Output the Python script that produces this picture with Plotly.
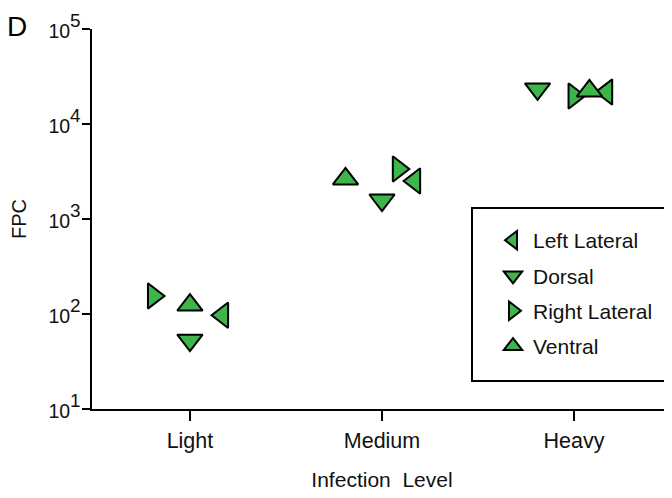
import plotly.graph_objects as go

categories = ["Light", "Medium", "Heavy"]
series_names = ["Left Lateral", "Dorsal", "Right Lateral", "Ventral"]
left_lateral = [97, 2510, 21700]
dorsal = [53, 1585, 23400]
right_lateral = [155, 3360, 19700]
ventral = [124, 2640, 22300]
y_tick_vals = [10, 100, 1000, 10000, 100000]
y_tick_exps = ["1", "2", "3", "4", "5"]

values = [left_lateral, dorsal, right_lateral, ventral]
symbols = ["triangle-left", "triangle-down", "triangle-right", "triangle-up"]
# horizontal scatter (jitter) of each series within a category
jitter = [
    [0.17, 0.17, 0.17],
    [0.0, 0.0, -0.19],
    [-0.19, 0.085, 0.0],
    [0.0, -0.19, 0.08],
]

FONT = "Arial, Liberation Sans, sans-serif"
GREEN = "#3db54a"
TXT = "#111111"

W, H = 664, 490
L, R, T, B = 84, 0, 21, 89
PW = W - L - R
PH = H - T - B

def px_x(x):
    return (x - L) / PW

def px_y(y):
    return (T + PH - y) / PH

fig = go.Figure()
for i, name in enumerate(series_names):
    xs = [c + jitter[i][c] for c in range(len(categories))]
    fig.add_trace(go.Scatter(
        x=xs, y=values[i], mode="markers", name=name,
        legendgroup=name,
        marker=dict(symbol=symbols[i], size=22, color=GREEN,
                    line=dict(color="black", width=2)),
        cliponaxis=False,
    ))

y_tick_text = ["<span style='font-size:19.5px'>10</span><sup>%s</sup>" % e for e in y_tick_exps]

fig.update_layout(
    width=W, height=H,
    margin=dict(l=L, r=R, t=T, b=B),
    paper_bgcolor="white", plot_bgcolor="white",
    font=dict(family=FONT, size=21, color=TXT),
    showlegend=True,
    legend=dict(x=px_x(485), y=px_y(212), xanchor="left", yanchor="top",
                bgcolor="rgba(0,0,0,0)", borderwidth=0,
                tracegroupgap=5, traceorder="grouped",
                font=dict(family=FONT, size=21, color=TXT)),
    shapes=[dict(type="rect", xref="paper", yref="paper",
                 x0=px_x(464), x1=px_x(659), y0=px_y(373), y1=px_y(200),
                 line=dict(color="black", width=2), fillcolor="white", layer="below")],
    annotations=[dict(text="D", x=0, y=1, xref="paper", yref="paper",
                      xanchor="left", yanchor="middle", showarrow=False,
                      xshift=-L - 3, yshift=T - 18.5,
                      font=dict(family=FONT, size=28, color="black"))],
)

fig.update_xaxes(
    range=[-0.51, 2.51], tickvals=[0, 1, 2], ticktext=categories,
    showgrid=False, zeroline=False, showline=True, linecolor="black", linewidth=2,
    ticks="outside", ticklen=10, tickwidth=2, tickcolor="black",
    ticklabelstandoff=1,
    tickfont=dict(family=FONT, size=21.5, color=TXT),
    title=dict(text="Infection\u00a0 Level", font=dict(family=FONT, size=21, color=TXT), standoff=21),
)
fig.update_yaxes(
    type="log", range=[1, 5], tickvals=y_tick_vals, ticktext=y_tick_text,
    showgrid=False, zeroline=False, showline=True, linecolor="black", linewidth=2,
    ticks="outside", ticklen=8, tickwidth=2, tickcolor="black",
    ticklabelstandoff=-4,
    tickfont=dict(family=FONT, size=27, color=TXT),
    title=dict(text="FPC", font=dict(family=FONT, size=20, color=TXT), standoff=16),
)

fig.write_html("out.html")
